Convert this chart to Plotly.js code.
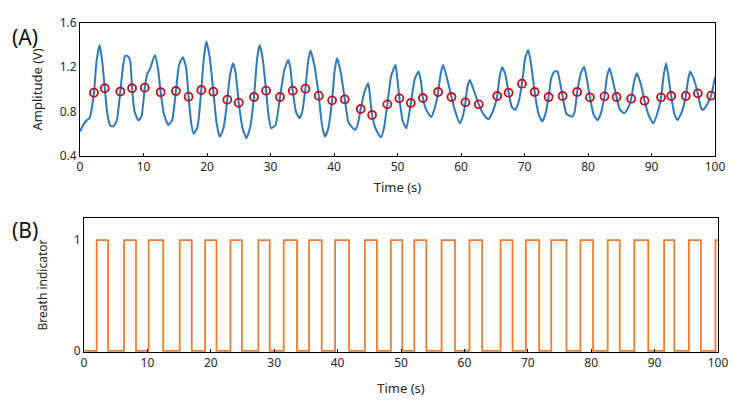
<!DOCTYPE html>
<html>
<head>
<meta charset="utf-8">
<script src="https://cdn.plot.ly/plotly-3.0.1.min.js"></script>
<style>html,body{margin:0;padding:0;background:#fff;}#chart{width:738px;height:404px;}</style>
</head>
<body>
<div id="chart"></div>
<script>
// ---- Panel A: amplitude signal ----
const sigTime = [0,0.5,1.0,1.5,2.2,2.6,3.1,3.5,3.9,4.3,4.8,5.3,5.8,6.35,6.8,7.1,7.5,7.9,8.2,8.6,9.2,9.7,10.2,10.6,11.0,11.8,12.3,12.7,13.2,13.9,14.5,15.1,15.6,16.2,16.7,17.1,17.5,17.9,18.5,19.1,19.5,19.9,20.4,21.0,21.5,22.0,22.6,23.2,23.6,24.1,24.5,25.0,25.6,26.2,26.8,27.4,27.9,28.3,28.8,29.3,29.7,30.1,30.8,31.5,32.2,32.8,33.1,33.5,34.0,34.6,35.0,35.5,35.9,36.3,36.9,37.6,38.1,38.6,39.1,39.7,40.1,40.5,41.1,41.7,42.3,43.3,43.8,44.2,44.8,45.4,45.7,46.0,46.6,47.4,47.9,48.4,49.0,49.7,50.0,50.3,50.8,51.4,52.1,52.7,53.3,53.7,54.0,54.5,55.3,55.9,56.4,56.8,57.2,57.8,58.5,59.0,59.8,60.3,60.7,61.0,61.4,61.9,62.8,63.5,64.3,65.0,65.7,66.1,66.5,67.0,67.5,68.0,68.5,69.0,69.6,70.1,70.6,71.0,71.6,72.2,72.8,73.3,73.8,74.2,74.7,75.2,75.6,76.0,76.6,77.5,77.9,78.3,78.9,79.4,79.8,80.3,80.9,81.5,82.0,82.6,83.0,83.4,83.9,84.5,85.0,85.7,86.2,86.8,87.3,87.7,88.3,88.9,89.6,90.3,90.9,91.5,91.9,92.3,92.7,93.1,93.6,94.1,94.8,95.4,95.8,96.1,96.6,97.3,97.7,98.1,98.7,99.4,100];
const sigAmp = [0.62,0.68,0.72,0.74,0.97,1.25,1.40,1.25,1.01,0.78,0.67,0.67,0.72,0.98,1.22,1.30,1.30,1.26,1.01,0.80,0.72,0.76,1.015,1.14,1.18,1.31,1.18,0.974,0.78,0.68,0.72,0.985,1.22,1.29,1.20,0.934,0.70,0.60,0.66,0.994,1.28,1.43,1.30,0.979,0.70,0.574,0.65,0.907,1.12,1.235,1.15,0.88,0.65,0.56,0.66,0.93,1.28,1.40,1.26,0.99,0.76,0.65,0.68,0.93,1.18,1.264,1.20,0.988,0.80,0.74,0.80,1.006,1.24,1.35,1.22,0.943,0.68,0.574,0.65,0.901,1.17,1.28,1.14,0.91,0.70,0.634,0.70,0.823,0.98,1.055,0.92,0.77,0.64,0.568,0.66,0.865,1.12,1.22,1.08,0.919,0.72,0.65,0.877,1.09,1.16,1.07,0.922,0.82,0.75,0.84,0.976,1.14,1.22,1.10,0.931,0.82,0.695,0.76,0.883,1.02,1.085,1.01,0.865,0.78,0.73,0.80,0.94,1.12,1.20,1.13,0.97,0.84,0.814,0.87,1.051,1.28,1.354,1.24,0.976,0.78,0.71,0.78,0.931,1.10,1.16,1.16,1.06,0.94,0.78,0.754,0.80,0.976,1.15,1.204,1.10,0.928,0.77,0.724,0.78,0.937,1.12,1.19,1.08,0.931,0.82,0.785,0.82,0.916,1.08,1.145,1.05,0.898,0.76,0.695,0.78,0.928,1.12,1.235,1.10,0.94,0.78,0.724,0.80,0.94,1.10,1.16,1.10,0.964,0.85,0.814,0.86,0.943,1.11];

// Red circle markers (breath transition points)
const markTime = [2.2,3.9,6.35,8.2,10.2,12.7,15.1,17.1,19.1,21.0,23.2,25.0,27.4,29.3,31.5,33.5,35.5,37.6,39.7,41.7,44.2,46.0,48.4,50.3,52.1,54.0,56.4,58.5,60.7,62.8,65.7,67.5,69.6,71.6,73.8,76.0,78.3,80.3,82.6,84.5,86.8,88.9,91.5,93.1,95.4,97.3,99.4];
const markAmp = [0.97,1.01,0.98,1.01,1.015,0.974,0.985,0.934,0.994,0.979,0.907,0.88,0.931,0.988,0.931,0.988,1.006,0.943,0.901,0.91,0.823,0.769,0.865,0.919,0.877,0.922,0.976,0.931,0.883,0.865,0.94,0.97,1.051,0.976,0.931,0.94,0.976,0.928,0.937,0.931,0.916,0.898,0.928,0.94,0.94,0.964,0.943];

// ---- Panel B: breath indicator pulses ----
const breathStart = [2.0,6.3,10.2,15.1,19.1,23.1,27.5,31.5,35.5,39.6,44.3,48.4,52.1,56.4,60.8,65.7,69.7,73.7,78.3,82.6,86.8,91.5,95.4,99.6];
const breathEnd   = [3.8,8.2,12.5,17.0,20.9,24.9,29.3,33.6,37.5,41.8,46.2,50.2,54.0,58.5,62.8,67.6,71.8,76.1,80.3,84.5,89.0,93.1,97.3,100];

const xTicks = [0,10,20,30,40,50,60,70,80,90,100];
const ampTicks = [0.4,0.8,1.2,1.6];
const ampTickText = ['0.4','0.8','1.2','1.6'];
const indTicks = [0,1];

// build step trace from pulse lists
const bx = [0], by = [0];
for (let i = 0; i < breathStart.length; i++) {
  bx.push(breathStart[i], breathStart[i], breathEnd[i], breathEnd[i]);
  by.push(0, 1, 1, breathEnd[i] >= 100 ? 1 : 0);
}
if (bx[bx.length - 1] < 100) { bx.push(100); by.push(0); }

const FONT = 'Noto Sans, Open Sans, sans-serif';
const TXT = '#262626';

const traces = [
  {x: sigTime, y: sigAmp, xaxis: 'x', yaxis: 'y', mode: 'lines', type: 'scatter',
   line: {color: '#2E78BE', width: 2, shape: 'spline', smoothing: 0.45}, hoverinfo: 'skip'},
  {x: markTime, y: markAmp, xaxis: 'x', yaxis: 'y', mode: 'markers', type: 'scatter',
   marker: {symbol: 'circle-open', size: 8, color: '#C0111F', line: {width: 1.8, color: '#C0111F'}}},
  {x: bx, y: by, xaxis: 'x2', yaxis: 'y2', mode: 'lines', type: 'scatter',
   line: {color: '#ED7D31', width: 1.8}}
];

const axisCommon = {
  showline: true, mirror: true, linecolor: '#000', linewidth: 1,
  showgrid: false, zeroline: false,
  tickfont: {family: FONT, size: 12, color: TXT},
  ticks: 'inside', ticklen: 3, tickcolor: '#000'
};

const layout = {
  width: 738, height: 404,
  margin: {l: 0, r: 0, t: 0, b: 0},
  paper_bgcolor: '#fff', plot_bgcolor: '#fff',
  showlegend: false,
  font: {family: FONT, color: TXT},
  xaxis: Object.assign({}, axisCommon, {
    domain: [80/738, 715/738], range: [0, 100], tickvals: xTicks, anchor: 'y',
    title: {text: 'Time (s)', font: {family: FONT, size: 13, color: TXT}, standoff: 8}
  }),
  yaxis: Object.assign({}, axisCommon, {
    domain: [1 - 156/404, 1 - 22.7/404], range: [0.4, 1.6], tickvals: ampTicks, ticktext: ampTickText,
    anchor: 'x', ticks: '',
    title: {text: 'Amplitude (V)', font: {family: FONT, size: 13, color: TXT}, standoff: 14}
  }),
  xaxis2: Object.assign({}, axisCommon, {
    domain: [84/738, 718/738], range: [0, 100], tickvals: xTicks, anchor: 'y2',
    title: {text: 'Time (s)', font: {family: FONT, size: 13, color: TXT}, standoff: 13}
  }),
  yaxis2: Object.assign({}, axisCommon, {
    domain: [1 - 352/404, 1 - 218/404], range: [-0.01, 1.2], tickvals: indTicks,
    anchor: 'x2', ticks: '',
    title: {text: 'Breath indicator', font: {family: FONT, size: 12, color: TXT}, standoff: 23}
  }),
  annotations: [
    {text: '(A)', xref: 'paper', yref: 'paper', x: 25/738, y: 1 - 37/404, xanchor: 'center', yanchor: 'middle',
     showarrow: false, font: {family: FONT, size: 21, color: '#111'}},
    {text: '(B)', xref: 'paper', yref: 'paper', x: 25/738, y: 1 - 230/404, xanchor: 'center', yanchor: 'middle',
     showarrow: false, font: {family: FONT, size: 21, color: '#111'}}
  ]
};

Plotly.newPlot('chart', traces, layout, {displayModeBar: false, staticPlot: true});
</script>
</body>
</html>
